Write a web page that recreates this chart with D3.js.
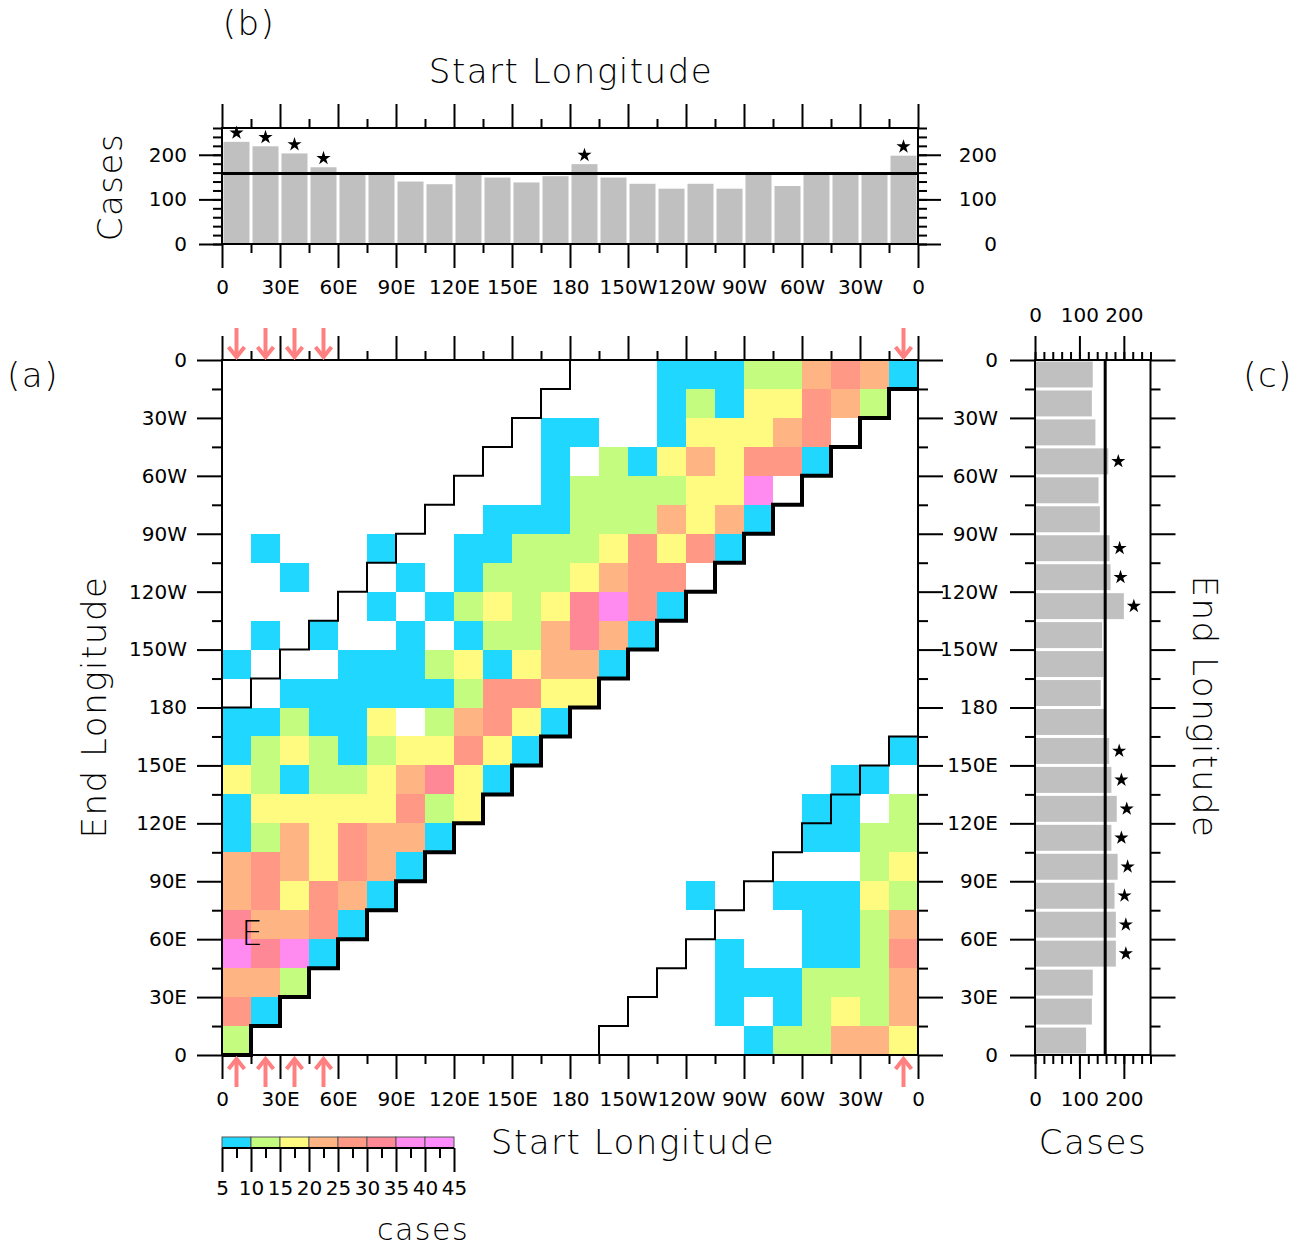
<!DOCTYPE html>
<html>
<head>
<meta charset="utf-8">
<script src="https://cdn.jsdelivr.net/npm/d3@7"></script>
<style>
  body { margin: 0; background: #fff; }
  svg { display: block; }
</style>
</head>
<body>
<svg id="chart" width="1300" height="1249"></svg>
<script>
// ---- data ----
var lonTicks = [0, 30, 60, 90, 120, 150, 180, 210, 240, 270, 300, 330, 360];
var lonTickLabels = ["0", "30E", "60E", "90E", "120E", "150E", "180", "150W", "120W", "90W", "60W", "30W", "0"];
var binWidth = 15;

// (b) cases per start longitude bin (0-15, 15-30, ... 345-360)
var startCases = [229, 219, 203, 172, 157, 157, 140, 134, 158, 149, 138, 152,
                  179, 149, 135, 124, 135, 124, 158, 130, 157, 158, 157, 198];
var startSignificant = [0, 1, 2, 3, 12, 23];

// (c) cases per end longitude bin (0-15 ... 345-360)
var endCases = [115, 128, 130, 182, 182, 179, 186, 172, 184, 172, 167, 156,
                148, 154, 151, 200, 170, 168, 146, 143, 165, 136, 128, 130];
var endSignificant = [3, 4, 5, 6, 7, 8, 9, 10, 15, 16, 17, 20];

var meanCases = 158;
var arrowBins = [0, 1, 2, 3, 23];

var caseLevels = [5, 10, 15, 20, 25, 30, 35, 40, 45];
var levelColors = ["#20d8ff", "#c4fc80", "#fffa80", "#ffb484", "#ff9884", "#ff8896", "#ff8af0", "#ff8cff"];

// (a) cases, rows listed from end lon 345-360 (top) down to 0-15 (bottom), columns start lon 0-15 ... 345-360
var casesTopDown = [
  [0,0,0,0,0,0,0,0,0,0,0,0,0,0,0,7,7,7,12,12,22,27,22,7],
  [0,0,0,0,0,0,0,0,0,0,0,0,0,0,0,7,12,7,17,17,27,22,12,0],
  [0,0,0,0,0,0,0,0,0,0,0,7,7,0,0,7,17,17,17,22,27,0,0,0],
  [0,0,0,0,0,0,0,0,0,0,0,7,0,12,7,17,22,17,27,27,7,0,0,0],
  [0,0,0,0,0,0,0,0,0,0,0,7,12,12,12,12,17,17,37,0,0,0,0,0],
  [0,0,0,0,0,0,0,0,0,7,7,7,12,12,12,22,17,22,7,0,0,0,0,0],
  [0,7,0,0,0,7,0,0,7,7,12,12,12,17,27,17,27,7,0,0,0,0,0,0],
  [0,0,7,0,0,0,7,0,7,12,12,12,17,22,27,27,0,0,0,0,0,0,0,0],
  [0,0,0,0,0,7,0,7,12,17,12,17,32,37,27,7,0,0,0,0,0,0,0,0],
  [0,7,0,7,0,0,7,0,7,12,12,22,32,22,7,0,0,0,0,0,0,0,0,0],
  [7,0,0,0,7,7,7,12,17,7,17,22,22,7,0,0,0,0,0,0,0,0,0,0],
  [0,0,7,7,7,7,7,7,12,27,27,17,17,0,0,0,0,0,0,0,0,0,0,0],
  [7,7,12,7,7,17,0,12,22,27,17,7,0,0,0,0,0,0,0,0,0,0,0,0],
  [7,12,17,12,7,12,17,17,27,17,7,0,0,0,0,0,0,0,0,0,0,0,0,7],
  [17,12,7,12,12,17,22,32,17,7,0,0,0,0,0,0,0,0,0,0,0,7,7,0],
  [7,17,17,17,17,17,27,12,17,0,0,0,0,0,0,0,0,0,0,0,7,7,0,12],
  [7,12,22,17,27,22,22,7,0,0,0,0,0,0,0,0,0,0,0,0,7,7,12,12],
  [22,27,22,17,27,22,7,0,0,0,0,0,0,0,0,0,0,0,0,0,0,0,12,17],
  [22,27,17,27,22,7,0,0,0,0,0,0,0,0,0,0,7,0,0,7,7,7,17,12],
  [32,22,22,27,7,0,0,0,0,0,0,0,0,0,0,0,0,0,0,0,7,7,12,22],
  [37,32,37,7,0,0,0,0,0,0,0,0,0,0,0,0,0,7,0,0,7,7,12,27],
  [22,22,12,0,0,0,0,0,0,0,0,0,0,0,0,0,0,7,7,7,12,12,12,22],
  [27,7,0,0,0,0,0,0,0,0,0,0,0,0,0,0,0,7,0,7,12,17,12,22],
  [12,0,0,0,0,0,0,0,0,0,0,0,0,0,0,0,0,0,7,12,12,22,22,17]
];

// ---- setup ----
var FONT = "'DejaVu Sans', sans-serif";
var svg = d3.select("#chart");

var x = d3.scaleLinear().domain([0, 360]).range([222, 918]);
var y = d3.scaleLinear().domain([0, 360]).range([1055, 360]);
var yb = d3.scaleLinear().domain([0, 260]).range([244, 128]);
var xc = d3.scaleLinear().domain([0, 260]).range([1035, 1150.5]);
var color = d3.scaleThreshold().domain(caseLevels).range([null].concat(levelColors, [levelColors[7]]));

var lonMinor = d3.range(15, 360, 30);
var caseMinor = d3.range(0, 261, 20);
function lonLabel(d) { return lonTickLabels[lonTicks.indexOf(d)]; }

function styleAxis(g, fs) {
  g.select(".domain").remove();
  g.selectAll("line").attr("stroke", "#000").attr("stroke-width", 2);
  g.selectAll("text").attr("font-family", FONT).attr("font-size", fs || 20).attr("fill", "#000");
  return g;
}
function addAxis(gen, tx, ty) {
  return styleAxis(svg.append("g").attr("transform", "translate(" + tx + "," + ty + ")").call(gen));
}

// ---- (a) heat map ----
var cells = [];
casesTopDown.forEach(function(row, r) {
  var j = 23 - r;
  row.forEach(function(v, i) { if (v >= 5) cells.push({i: i, j: j, v: v}); });
});
svg.append("g").selectAll("rect").data(cells).enter().append("rect")
  .attr("x", function(d) { return x(d.i * binWidth); })
  .attr("y", function(d) { return y((d.j + 1) * binWidth); })
  .attr("width", function(d) { return x((d.i + 1) * binWidth) - x(d.i * binWidth); })
  .attr("height", function(d) { return y(d.j * binWidth) - y((d.j + 1) * binWidth); })
  .attr("fill", function(d) { return color(d.v); })
  .attr("shape-rendering", "crispEdges");

var line = d3.line().x(function(p) { return x(p[0]); }).y(function(p) { return y(p[1]); });

// 180 degree limits
var upper = [];
for (var j = 23; j >= 12; j--) upper.push([15 * (j - 11), 15 * (j + 1)], [15 * (j - 11), 15 * j]);
upper.push([0, 180]);
var lower = [];
for (var i = 13; i <= 23; i++) lower.push([15 * i, 15 * (i - 13)], [15 * i, 15 * (i - 12)]);
lower.push([360, 165]);
// diagonal
var diag = [];
for (var k = 23; k >= 1; k--) diag.push([15 * (k + 1), 15 * k], [15 * k, 15 * k]);
diag.push([15, 0], [0, 0]);

[upper, lower].forEach(function(pts) {
  svg.append("path").attr("d", line(pts)).attr("fill", "none").attr("stroke", "#000").attr("stroke-width", 2);
});

svg.append("rect").attr("x", x(0)).attr("y", y(360)).attr("width", x(360) - x(0)).attr("height", y(0) - y(360))
  .attr("fill", "none").attr("stroke", "#000").attr("stroke-width", 2);
svg.append("path").attr("d", line(diag)).attr("fill", "none").attr("stroke", "#000").attr("stroke-width", 4);

addAxis(d3.axisBottom(x).tickValues(lonTicks).tickFormat(lonLabel).tickSize(24).tickPadding(13), 0, y(0));
addAxis(d3.axisBottom(x).tickValues(lonMinor).tickFormat("").tickSize(9), 0, y(0));
addAxis(d3.axisTop(x).tickValues(lonTicks).tickFormat("").tickSize(24), 0, y(360));
addAxis(d3.axisTop(x).tickValues(lonMinor).tickFormat("").tickSize(9), 0, y(360));
addAxis(d3.axisLeft(y).tickValues(lonTicks).tickFormat(lonLabel).tickSize(25).tickPadding(10), x(0), 0);
addAxis(d3.axisLeft(y).tickValues(lonMinor).tickFormat("").tickSize(10), x(0), 0);
addAxis(d3.axisRight(y).tickValues(lonTicks).tickFormat(lonLabel).tickSize(25), x(360), 0)
  .selectAll("text").attr("text-anchor", "end").attr("x", 80);
addAxis(d3.axisRight(y).tickValues(lonMinor).tickFormat("").tickSize(10), x(360), 0);

// arrows at significant start longitudes
var arrowColor = "#ff8080";
arrowBins.forEach(function(b) {
  var cx = x((b + 0.5) * binWidth);
  var top = svg.append("g").attr("stroke", arrowColor).attr("stroke-width", 4).attr("fill", "none");
  top.append("line").attr("x1", cx).attr("x2", cx).attr("y1", y(360) - 32).attr("y2", y(360) - 3);
  top.append("path").attr("d", "M" + (cx - 8) + "," + (y(360) - 13) + "L" + cx + "," + (y(360) - 3) + "L" + (cx + 8) + "," + (y(360) - 13));
  var bot = svg.append("g").attr("stroke", arrowColor).attr("stroke-width", 4).attr("fill", "none");
  bot.append("line").attr("x1", cx).attr("x2", cx).attr("y1", y(0) + 4).attr("y2", y(0) + 32);
  bot.append("path").attr("d", "M" + (cx - 8) + "," + (y(0) + 14) + "L" + cx + "," + (y(0) + 4) + "L" + (cx + 8) + "," + (y(0) + 14));
});

svg.append("text").attr("x", x(15.5)).attr("y", y(63)).attr("text-anchor", "middle").attr("dominant-baseline", "central")
  .attr("font-family", FONT).attr("font-size", 34).attr("font-weight", 200).text("E");

// ---- (b) start longitude histogram ----
var star = d3.symbol().type(d3.symbolStar).size(62);
svg.append("g").selectAll("rect").data(startCases).enter().append("rect")
  .attr("x", function(d, i) { return x(i * binWidth) + 1.5; })
  .attr("width", function(d, i) { return x((i + 1) * binWidth) - x(i * binWidth) - 3; })
  .attr("y", function(d) { return yb(d); })
  .attr("height", function(d) { return yb(0) - yb(d); })
  .attr("fill", "#c0c0c0");
svg.append("g").selectAll("path").data(startSignificant).enter().append("path")
  .attr("d", star)
  .attr("transform", function(i) { return "translate(" + x((i + 0.5) * binWidth) + "," + (yb(startCases[i]) - 9) + ")"; })
  .attr("fill", "#000");
svg.append("line").attr("x1", x(0)).attr("x2", x(360)).attr("y1", yb(meanCases)).attr("y2", yb(meanCases))
  .attr("stroke", "#000").attr("stroke-width", 3);
svg.append("rect").attr("x", x(0)).attr("y", yb(260)).attr("width", x(360) - x(0)).attr("height", yb(0) - yb(260))
  .attr("fill", "none").attr("stroke", "#000").attr("stroke-width", 2);

addAxis(d3.axisBottom(x).tickValues(lonTicks).tickFormat(lonLabel).tickSize(24).tickPadding(12), 0, yb(0));
addAxis(d3.axisBottom(x).tickValues(lonMinor).tickFormat("").tickSize(9), 0, yb(0));
addAxis(d3.axisTop(x).tickValues(lonTicks).tickFormat("").tickSize(24), 0, yb(260));
addAxis(d3.axisTop(x).tickValues(lonMinor).tickFormat("").tickSize(9), 0, yb(260));
addAxis(d3.axisLeft(yb).tickValues([0, 100, 200]).tickSize(23).tickPadding(12), x(0), 0);
addAxis(d3.axisLeft(yb).tickValues(caseMinor).tickFormat("").tickSize(9), x(0), 0);
addAxis(d3.axisRight(yb).tickValues([0, 100, 200]).tickSize(23), x(360), 0)
  .selectAll("text").attr("text-anchor", "end").attr("x", 79);
addAxis(d3.axisRight(yb).tickValues(caseMinor).tickFormat("").tickSize(9), x(360), 0);

// ---- (c) end longitude histogram ----
svg.append("g").selectAll("rect").data(endCases).enter().append("rect")
  .attr("x", xc(0))
  .attr("y", function(d, j) { return y((j + 1) * binWidth) + 1.5; })
  .attr("height", function(d, j) { return y(j * binWidth) - y((j + 1) * binWidth) - 3; })
  .attr("width", function(d) { return xc(d) - xc(0); })
  .attr("fill", "#c0c0c0");
svg.append("g").selectAll("path").data(endSignificant).enter().append("path")
  .attr("d", star)
  .attr("transform", function(j) { return "translate(" + (xc(endCases[j]) + 10) + "," + y((j + 0.5) * binWidth) + ")"; })
  .attr("fill", "#000");
svg.append("line").attr("x1", xc(meanCases)).attr("x2", xc(meanCases)).attr("y1", y(360)).attr("y2", y(0))
  .attr("stroke", "#000").attr("stroke-width", 3);
svg.append("rect").attr("x", xc(0)).attr("y", y(360)).attr("width", xc(260) - xc(0)).attr("height", y(0) - y(360))
  .attr("fill", "none").attr("stroke", "#000").attr("stroke-width", 2);

addAxis(d3.axisTop(xc).tickValues([0, 100, 200]).tickSize(24).tickPadding(14), 0, y(360));
addAxis(d3.axisTop(xc).tickValues(caseMinor).tickFormat("").tickSize(8), 0, y(360));
addAxis(d3.axisBottom(xc).tickValues([0, 100, 200]).tickSize(24).tickPadding(13), 0, y(0));
addAxis(d3.axisBottom(xc).tickValues(caseMinor).tickFormat("").tickSize(9), 0, y(0));
addAxis(d3.axisLeft(y).tickValues(lonTicks).tickFormat("").tickSize(25), xc(0), 0);
addAxis(d3.axisLeft(y).tickValues(lonMinor).tickFormat("").tickSize(10), xc(0), 0);
addAxis(d3.axisRight(y).tickValues(lonTicks).tickFormat("").tickSize(25), xc(260), 0);
addAxis(d3.axisRight(y).tickValues(lonMinor).tickFormat("").tickSize(10), xc(260), 0);

// ---- colour bar ----
var xl = d3.scaleLinear().domain([5, 45]).range([222, 454]);
svg.append("g").selectAll("rect").data(levelColors).enter().append("rect")
  .attr("x", function(d, i) { return xl(caseLevels[i]); })
  .attr("width", function(d, i) { return xl(caseLevels[i + 1]) - xl(caseLevels[i]); })
  .attr("y", 1137).attr("height", 11)
  .attr("fill", function(d) { return d; })
  .attr("stroke", "#555").attr("stroke-width", 1);
addAxis(d3.axisBottom(xl).tickValues(caseLevels).tickSize(24).tickPadding(9), 0, 1148);
addAxis(d3.axisBottom(xl).tickValues(d3.range(7.5, 45, 5)).tickFormat("").tickSize(10), 0, 1148);
svg.append("line").attr("x1", xl(5)).attr("x2", xl(45)).attr("y1", 1148).attr("y2", 1148).attr("stroke", "#000").attr("stroke-width", 2);

// ---- titles ----
function title(txt, tx, ty, rot, fs) {
  svg.append("text").attr("transform", "translate(" + tx + "," + ty + ")" + (rot ? " rotate(" + rot + ")" : ""))
    .attr("text-anchor", "middle")
    .attr("font-family", FONT).attr("font-size", fs || 34).attr("font-weight", 200)
    .attr("letter-spacing", 1.5).attr("fill", "#000").text(txt);
}
title("(b)", 249, 35);
title("(a)", 33, 387);
title("(c)", 1268, 387);
title("Start Longitude", 571, 83);
title("Start Longitude", 633, 1154);
title("Cases", 1093, 1154);
title("cases", 423, 1240, 0, 30);
title("Cases", 122, 187, -90);
title("End Longitude", 106, 707, -90);
title("End Longitude", 1193, 707, 90);
</script>
</body>
</html>
